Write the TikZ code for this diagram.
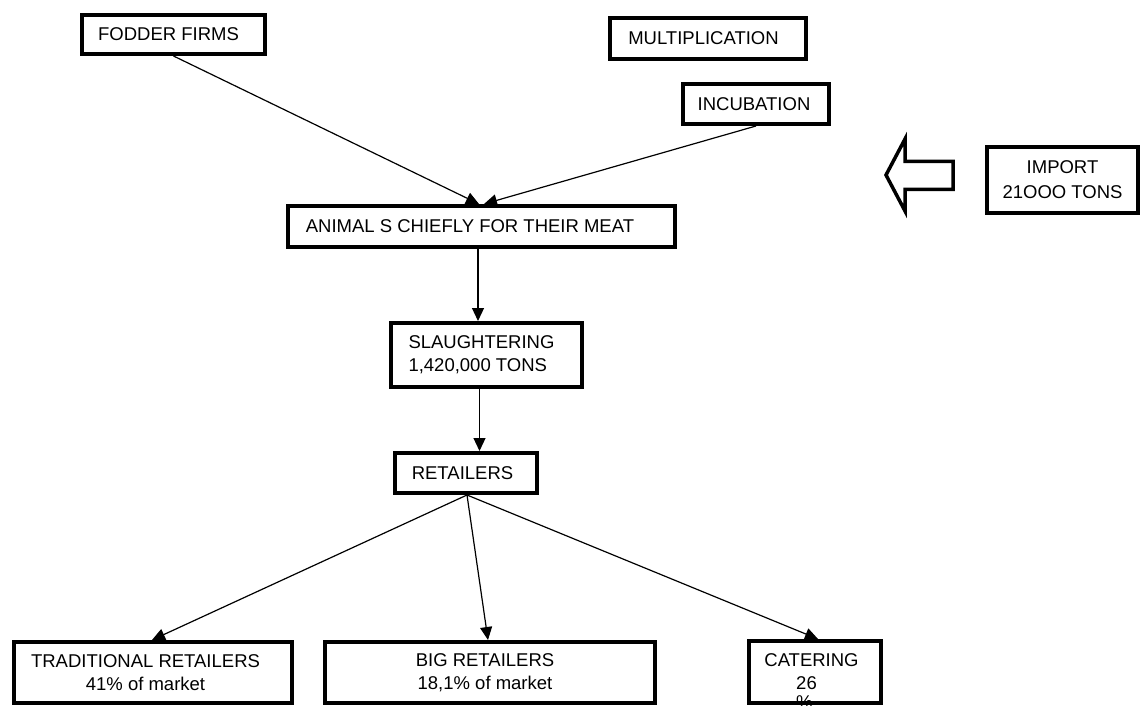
\documentclass[tikz,border=0pt]{standalone}
\usepackage{fontspec}
\setmainfont{Liberation Sans}
\usetikzlibrary{arrows.meta,calc}
% move a line of text sideways without changing its width
\newcommand{\shiftx}[2]{\hspace*{#1pt}#2\hspace*{-#1pt}}
% a glyph set below the current line that takes up no room
\newcommand{\hangbelow}[2]{\makebox[0pt][l]{\raisebox{-#1pt}[0pt][0pt]{#2}}}
\begin{document}
\begin{tikzpicture}[x=1pt,y=-1pt,
  box/.style={draw, line width=4pt, inner sep=0pt, font=\fontsize{18.5}{23}\selectfont},
  conn/.style={line width=1.2pt, -{Triangle[length=13pt,width=12pt]}},
  blockarrow/.style={draw, line width=3.5pt, line join=miter, fill=white}
]
\useasboundingbox (0,0) rectangle (1141,706);

% supply side
\node[box, minimum width=183pt, minimum height=39pt] (fodder) at (173.5,34.5) {\shiftx{-5}{FODDER FIRMS}};
\node[box, minimum width=196pt, minimum height=41pt] (multiplication) at (708,38.5) {\shiftx{-4.5}{MULTIPLICATION}};
\node[box, minimum width=146pt, minimum height=40pt] (incubation) at (756,104) {\shiftx{-2}{INCUBATION}};
\node[box, minimum width=151pt, minimum height=66pt, align=center] (import) at (1062.5,180) {IMPORT\\[2pt]21OOO TONS};

% hollow arrow pointing from the import box
\draw[blockarrow] (886,175) -- (905,139) -- (905,161.5) -- (953,161.5) -- (953,189.5)
  -- (905,189.5) -- (905,211) -- cycle;

% production chain
\node[box, minimum width=387pt, minimum height=41pt] (animals) at (481.5,226.5) {\shiftx{-11.5}{ANIMAL S CHIEFLY FOR THEIR MEAT}};
\node[box, minimum width=191pt, minimum height=64pt, align=left] (slaughter) at (486.5,355) {\shiftx{-5}{SLAUGHTERING}\\\shiftx{-5}{1,420,000 TONS}};
\node[box, minimum width=142pt, minimum height=40pt] (retailers) at (466,473) {\shiftx{-3.5}{RETAILERS}};

% market shares
\node[box, minimum width=278pt, minimum height=61pt, align=center] (trad) at (153,672.5) {\shiftx{-7.5}{TRADITIONAL RETAILERS}\\\shiftx{-7.5}{41\% of market}};
\node[box, minimum width=330pt, minimum height=61pt, align=center] (big) at (490,672.5) {\shiftx{-5}{BIG RETAILERS}\\\shiftx{-5}{18,1\% of market}};
\node[box, minimum width=132pt, minimum height=62pt, align=center] (catering) at (815,672) {\shiftx{-3.5}{CATERING}\\\shiftx{-8.5}{\hangbelow{19}{\%}26}};

% connectors
\draw[conn] (fodder.south) -- ([xshift=-2.5pt]animals.north);
\draw[conn] (incubation.south) -- ([xshift=2.5pt]animals.north);
\draw[conn] ([xshift=-3.5pt]animals.south) -- ([xshift=-8.5pt]slaughter.north);
\draw[conn] ([xshift=-7pt]slaughter.south) -- ([xshift=13.5pt]retailers.north);
\draw[conn] ([xshift=1pt]retailers.south) -- ([xshift=-1pt]trad.north);
\draw[conn] ([xshift=1pt]retailers.south) -- ([xshift=-2pt]big.north);
\draw[conn] ([xshift=1pt]retailers.south) -- ([xshift=3pt]catering.north);
\end{tikzpicture}
\end{document}
